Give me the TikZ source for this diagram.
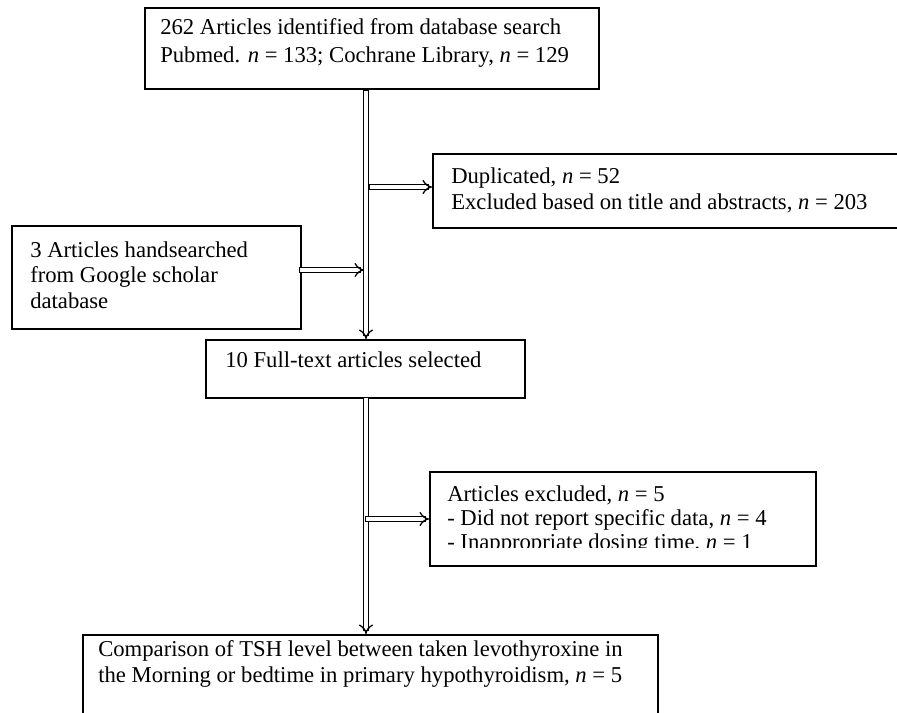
\documentclass[tikz,border=0pt]{standalone}
\usepackage{fontspec}
\setmainfont{Liberation Serif}
\usetikzlibrary{arrows.meta}

\begin{document}
\begin{tikzpicture}[x=0.75pt,y=0.75pt,yscale=-1,xscale=1,
    box/.style={draw, line width=1.3pt, anchor=north west, inner sep=0pt},
    txt/.style={anchor=base west, align=left, inner sep=0pt, font=\fontsize{17}{19.5}\selectfont},
    dbl/.style={double, double distance=2.6pt, line width=1pt, line cap=rect, -{Implies[length=4pt,width=9pt]}}]
    \useasboundingbox (0,0) rectangle (897,713);
    \clip (0,0) rectangle (897,713);
    
    %Boxes
    \node (ident) [box, minimum width=454*0.75pt, minimum height=81*0.75pt] at (144,7) {};
    \node (dup) [box, minimum width=500*0.75pt, minimum height=74*0.75pt] at (432,153) {};
    \node (hand) [box, minimum width=289*0.75pt, minimum height=103*0.75pt] at (11,225) {};
    \node (full) [box, minimum width=319*0.75pt, minimum height=58*0.75pt] at (205,339) {};
    \node (excl) [box, minimum width=386*0.75pt, minimum height=94*0.75pt] at (429,471) {};
    \node (comp) [box, minimum width=575*0.75pt, minimum height=120*0.75pt] at (82,634) {};
    
    % Text Nodes (anchored at the last baseline)
    \node (identtxt) [txt] at (160,63) {262 Articles identified from database search\\[1.5pt]Pubmed. \textit{n} = 133; Cochrane Library, \textit{n} = 129};
    \node (duptxt) [txt] at (451,210) {Duplicated, \textit{n} = 52\\Excluded based on title and abstracts, \textit{n} = 203};
    \node (handtxt) [txt] at (30,309) {3 Articles handsearched\\from Google scholar\\database};
    \node (fulltxt) [txt] at (225,368) {10 Full-text articles selected};
    \begin{scope}
        \clip (429,471) rectangle (815,547);
        \node (excltxt) [txt, font=\fontsize{17}{18}\selectfont] at (447,549) {Articles excluded, \textit{n} = 5\\- Did not report specific data, \textit{n} = 4\\- Inappropriate dosing time, \textit{n} = 1};
    \end{scope}
    \node (comptxt) [txt] at (98,682) {Comparison of TSH level between taken levothyroxine in\\the Morning or bedtime in primary hypothyroidism, \textit{n} = 5};
    
    %Double arrows
    \coordinate (spinetop) at (366,93);
    \coordinate (branchdup) at (372,187);
    \coordinate (handjoin) at (364,270);
    \coordinate (spinemid) at (366,400);
    \coordinate (branchexcl) at (368,519);
    \draw [dbl] (spinetop) -- (spinetop |- full.north);
    \draw [dbl] (branchdup) -- (branchdup -| dup.west);
    \draw [dbl] (hand.east |- handjoin) -- (handjoin);
    \draw [dbl] (spinemid) -- (spinemid |- comp.north);
    \draw [dbl] (branchexcl) -- (branchexcl -| excl.west);
    
\end{tikzpicture}
\end{document}
